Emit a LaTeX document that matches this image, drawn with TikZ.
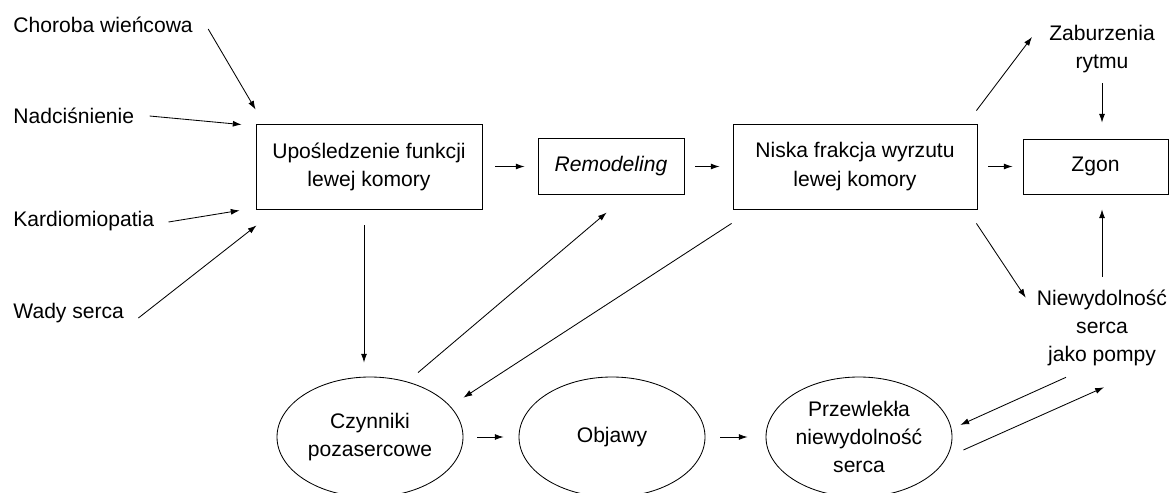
\documentclass[tikz,border=0pt]{standalone}
\usepackage{fontspec}
\setmainfont{Liberation Sans}
\usetikzlibrary{positioning}
\usetikzlibrary{shapes.geometric}
\usetikzlibrary{arrows.meta}

\begin{document}
\begin{tikzpicture}[line width=0.6pt,
    every node/.style={font=\fontsize{15}{20}\selectfont},
    box/.style={draw, minimum width=5.65cm, minimum height=2.125cm, align=center},
    oval/.style={draw, ellipse, minimum width=4.65cm, minimum height=3cm, inner sep=1pt, align=center},
    cause/.style={anchor=base west, inner sep=0pt},
    lbl/.style={inner sep=2pt, align=center},
    >={Latex[length=2.2mm, width=1.5mm]}]

                \useasboundingbox (0,0) rectangle (29.25,-12.3);

                % Nodes
                \node at (0.325,-0.825) (chor) [cause] {Choroba wieńcowa};
                \node at (0.325,-3.075) (nadc) [cause] {Nadciśnienie};
                \node at (0.325,-5.65) (kard) [cause] {Kardiomiopatia};
                \node at (0.325,-7.95) (wady) [cause] {Wady serca};
                \node at (9.225,-4.1625) (upos) [box] {Upośledzenie funkcji\\lewej komory};
                \node at (15.275,-4.1625) (remod) [box, minimum width=3.65cm, minimum height=1.4cm] {\itshape Remodeling};
                \node at (21.375,-4.1625) (niska) [box, minimum width=6.1cm] {Niska frakcja wyrzutu\\lewej komory};
                \node at (27.3875,-4.1625) (zgon) [box, minimum width=3.625cm, minimum height=1.375cm] {Zgon};
                \node at (27.55,-1.225) (zabur) [lbl] {Zaburzenia\\rytmu};
                \node at (27.55,-8.2) (niew) [lbl] {Niewydolność\\serca\\jako pompy};
                \node at (9.25,-10.925) (czyn) [oval] {Czynniki\\pozasercowe};
                \node at (15.3,-10.925) (obj) [oval] {Objawy};
                \node at (21.475,-10.925) (przew) [oval] {Przewlekła\\niewydolność\\serca};

                % Arrows
                \draw[->] ([shift={(0.375,0.1)}]chor.base east) -- ([yshift=0.35cm]upos.north west);
                \draw[->] ([shift={(0.375,0.175)}]nadc.base east) -- ([shift={(-0.35,-0.025)}]upos.north west);
                \draw[->] ([shift={(0.35,0.1)}]kard.base east) -- ([shift={(-0.4,-0.025)}]upos.south west);
                \draw[->] ([shift={(0.35,0)}]wady.base east) -- ([shift={(0.025,-0.4)}]upos.south west);
                \draw[->, shorten <=0.325cm, shorten >=0.325cm] (upos.east) -- (remod.west);
                \draw[->, shorten <=0.275cm, shorten >=0.325cm] (remod.east) -- (niska.west);
                \draw[->, shorten <=0.275cm, shorten >=0.25cm] (niska.east) -- (zgon.west);
                \draw[->] ([shift={(-0.025,0.325)}]niska.north east) -- ([shift={(-0.35,0.3)}]zabur.west);
                \draw[->, shorten <=0.175cm, shorten >=0.4cm] (zabur.south) -- (zabur.south |- zgon.north);
                \draw[->, shorten <=0.25cm, shorten >=0.375cm] (niew.north) -- (niew.north |- zgon.south);
                \draw[->] ([shift={(-0.025,-0.35)}]niska.south east) -- ([shift={(-0.2,-0.275)}]niew.north west);
                \draw[->, shorten <=0.4cm, shorten >=0.35cm] ([xshift=-0.125cm]upos.south) -- ([xshift=-0.125cm]upos.south |- czyn.north);
                \draw[->, shorten <=0.35cm, shorten >=0.68cm] (czyn.56) -- (remod.-60);
                \draw[->, shorten >=0.39cm] ([shift={(-0.025,-0.35)}]niska.south west) -- (czyn.21);
                \draw[->, shorten <=0.35cm, shorten >=0.375cm] (czyn.east) -- (obj.west);
                \draw[->, shorten <=0.375cm, shorten >=0.45cm] (obj.east) -- (przew.west);
                \draw[->, shorten >=0.24cm] ([shift={(-0.9,-0.2)}]niew.south) -- (przew.5);
                \draw[->, shorten <=0.45cm] (przew.-13) -- ([shift={(0.05,-0.45)}]niew.south);

            \end{tikzpicture}
\end{document}
